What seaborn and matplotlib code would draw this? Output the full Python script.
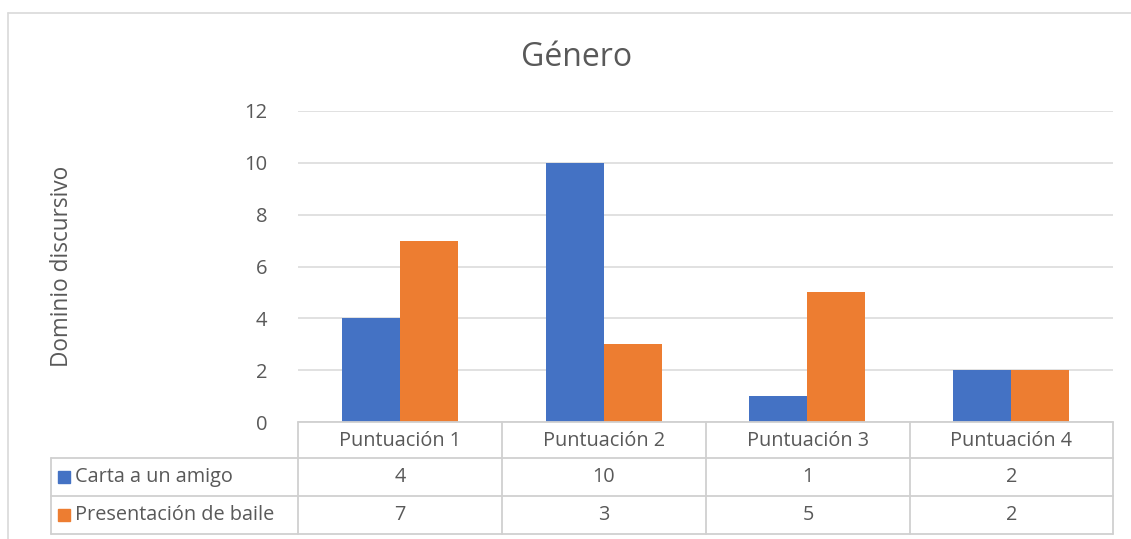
import numpy as np
import pandas as pd
import matplotlib
matplotlib.use("Agg")
import matplotlib.pyplot as plt
from matplotlib.lines import Line2D
from matplotlib.patches import Rectangle
import seaborn as sns

# ── data ────────────────────────────────────────────────
categories = ["Puntuación 1", "Puntuación 2", "Puntuación 3", "Puntuación 4"]
carta = [4, 10, 1, 2]
baile = [7, 3, 5, 2]
series_names = ["Carta a un amigo", "Presentación de baile"]
y_ticks = [0, 2, 4, 6, 8, 10, 12]

BLUE = "#4472C4"
ORANGE = "#ED7D31"
TXT = "#595959"
GRID = "#D9D9D9"

df = pd.DataFrame({
    "cat": categories * 2,
    "val": carta + baile,
    "serie": [series_names[0]] * 4 + [series_names[1]] * 4,
})

sns.set_theme(style="white")
plt.rcParams["font.family"] = ["Open Sans", "DejaVu Sans"]

W, H = 1131, 539
fig = plt.figure(figsize=(W / 100, H / 100), dpi=100)

def fx(px):
    return px / W

def fy(py):
    return 1 - py / H

FS = 14.3

# plot area
x0, x1 = 298, 1113
y_top, y_bot = 111, 422
ax = fig.add_axes([fx(x0), fy(y_bot), fx(x1) - fx(x0), fy(y_top) - fy(y_bot)])
sns.barplot(data=df, x="cat", y="val", hue="serie", palette=[BLUE, ORANGE],
            width=0.57, saturation=1, ax=ax, legend=False, linewidth=0)
ax.set_ylim(0, 12)
ax.set_xlim(-0.5, 3.5)
ax.set_yticks(y_ticks)
ax.set_yticklabels([str(t) for t in y_ticks], color=TXT, fontsize=14.5)
ax.tick_params(axis="y", length=0, pad=22)
ax.set_xticks([])
ax.set_xlabel("")
ax.set_ylabel("")
for t in y_ticks:
    ax.axhline(t, color=GRID, lw=1.1, zorder=0)
for s in ax.spines.values():
    s.set_visible(False)
ax.patch.set_alpha(0)

# y label and title
fig.text(fx(62), fy(266), "Dominio discursivo", rotation=90, ha="center",
         va="center", color=TXT, fontsize=16.3)
fig.text(fx(577), fy(57), "Género", ha="center", va="center", color=TXT,
         fontsize=23)

# chart frame
fig.add_artist(Line2D([fx(8), fx(1131)], [fy(13), fy(13)], color=GRID, lw=1.2))
fig.add_artist(Line2D([fx(8), fx(8)], [fy(13), fy(539)], color=GRID, lw=1.2))

# data table
col_edges = [298, 502, 706, 910, 1113]
row_edges = [422, 458, 496, 534]
lab_left = 51
tl = dict(color="#D0D0D0", lw=1.3)
fig.add_artist(Line2D([fx(x0), fx(x1)], [fy(row_edges[0])] * 2, **tl))
for r in row_edges[1:]:
    fig.add_artist(Line2D([fx(lab_left), fx(x1)], [fy(r)] * 2, **tl))
for c in col_edges:
    fig.add_artist(Line2D([fx(c)] * 2, [fy(row_edges[0]), fy(row_edges[-1])], **tl))
fig.add_artist(Line2D([fx(lab_left)] * 2, [fy(row_edges[1]), fy(row_edges[-1])], **tl))

# header
for i, cat in enumerate(categories):
    cx = (col_edges[i] + col_edges[i + 1]) / 2
    fig.text(fx(cx), fy((row_edges[0] + row_edges[1]) / 2 + 1), cat, ha="center",
             va="center", color=TXT, fontsize=FS)

# rows
for k, (name, vals, col) in enumerate(zip(series_names, [carta, baile], [BLUE, ORANGE])):
    cy = (row_edges[k + 1] + row_edges[k + 2]) / 2
    fig.add_artist(Rectangle((fx(58), fy(cy + 6)), fx(12), 12 / H, color=col,
                             transform=fig.transFigure))
    fig.text(fx(75), fy(cy), name, ha="left", va="center", color=TXT, fontsize=FS)
    for i, v in enumerate(vals):
        cx = (col_edges[i] + col_edges[i + 1]) / 2
        fig.text(fx(cx), fy(cy), str(v), ha="center", va="center", color=TXT,
                 fontsize=FS)

fig.savefig("out.png", dpi=100, facecolor="white")
